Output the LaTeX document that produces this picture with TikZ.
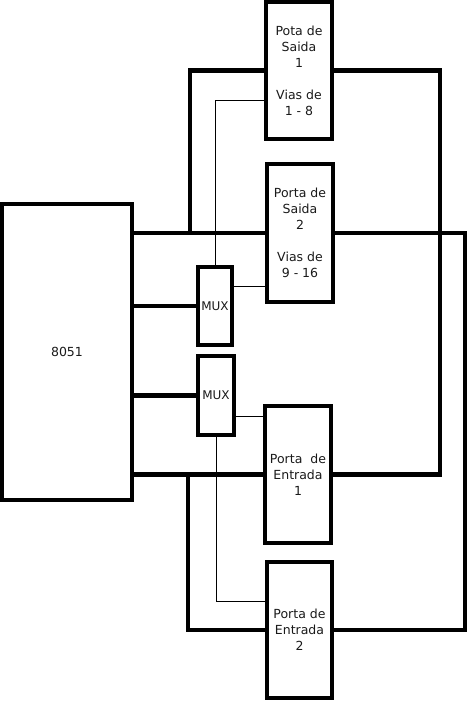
\documentclass[tikz,border=0pt]{standalone}
\usepackage{fontspec}
\setmainfont{DejaVu Sans}
\usepackage{tikz}
\usetikzlibrary{positioning, calc}
\definecolor{darkgray}{HTML}{1A1A1A}
\tikzset{
  chip/.style={
    rectangle, draw=black, line width=3.4pt, fill=white,
    minimum width=130pt, minimum height=296pt,
    inner sep=0pt, text=darkgray,
    font=\fontsize{12.5}{16}\selectfont,
  },
  mux/.style={
    rectangle, draw=black, line width=3.4pt, fill=white,
    minimum width=34pt, minimum height=78pt,
    inner sep=0pt, text=darkgray,
    font=\fontsize{12}{16}\selectfont,
  },
  port/.style={
    rectangle, draw=black, line width=3.4pt, fill=white,
    minimum width=66pt, minimum height=137pt,
    inner sep=0pt, align=center, text=darkgray,
    font=\fontsize{12.5}{16}\selectfont,
  },
  bus/.style={line width=4.4pt, color=black},
  wire/.style={line width=1pt, color=black},
}
\begin{document}
\begin{tikzpicture}[x=1pt, y=-1pt]
  \useasboundingbox (0,0) rectangle (468,702);

  \node[chip] (cpu) at (67,352) {8051};
  \node[mux] (mux1) at (215,306) {MUX};
  \node[mux, minimum width=36pt, minimum height=79pt] (mux2) at (216,395.5) {MUX};
  \node[port] (sai1) at (299,70.5) {Pota de\\Saida\\1\\[16pt]Vias de\\1 - 8};
  \node[port, minimum height=138pt] (sai2) at (300,233) {Porta de\\Saida\\2\\[16pt]Vias de\\9 - 16};
  \node[port] (ent1) at (298,474.5) {Porta\ \ de\\Entrada\\1};
  \node[port, minimum width=65pt, minimum height=136pt] (ent2) at (299.5,630) {Porta de\\Entrada\\2};

  \coordinate (rtop) at (465,233);
  \coordinate (rbot) at (465,630);
  \coordinate (rin) at (440,474.5);

  % upper bus
  \draw[bus] (cpu.east |- sai2.west) -- (sai2.west);
  \draw[bus] (sai2.east) -- (rtop) -- (rbot) -- (ent2.east);
  \draw[bus] (sai1.west) -| (190,233);

  % lower bus
  \draw[bus] (cpu.east |- ent1.west) -- (ent1.west);
  \draw[bus] (sai1.east) -| (rin) -- (ent1.east);
  \draw[bus] (188,474.5) |- (ent2.west);

  % cpu to mux
  \draw[bus] (cpu.east |- mux1.west) -- (mux1.west);
  \draw[bus] (cpu.east |- mux2.west) -- (mux2.west);

  % mux control lines
  \draw[wire] (mux1.north) |- (sai1.west |- 0,100);
  \draw[wire] (mux1.east |- 0,286) -- (sai2.west |- 0,286);
  \draw[wire] (mux2.east |- 0,416) -- (ent1.west |- 0,416);
  \draw[wire] (mux2.south) |- (ent2.west |- 0,601);

\end{tikzpicture}
\end{document}
